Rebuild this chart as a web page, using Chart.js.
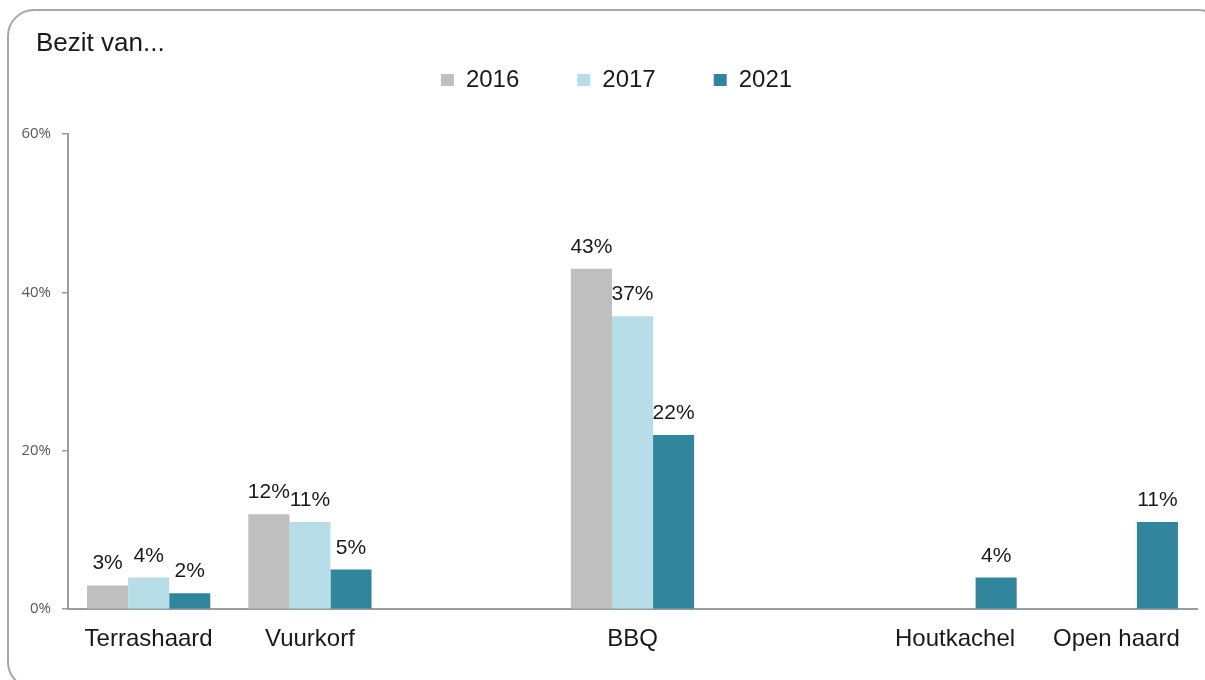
<!DOCTYPE html>
<html>
<head>
<meta charset="utf-8">
<script src="https://cdn.jsdelivr.net/npm/chart.js@4/dist/chart.umd.min.js"></script>
<style>
  html, body { margin: 0; padding: 0; background: #fff; }
  #wrap { position: relative; width: 1205px; height: 680px; overflow: hidden; }
  #frame {
    position: absolute; left: 7px; top: 9px; width: 1214px; height: 676px;
    border: 2px solid #a6a6a6; border-radius: 27px;
  }
  #chart { position: absolute; left: 0; top: 0; }
</style>
</head>
<body>
<div id="wrap">
  <div id="frame"></div>
  <canvas id="chart" width="1205" height="680"></canvas>
</div>
<script>
const categories = ["Terrashaard", "Vuurkorf", "", "BBQ", "", "Houtkachel", "Open haard"];
const years = ["2016", "2017", "2021"];
const values2016 = [3, 12, null, 43, null, null, null];
const values2017 = [4, 11, null, 37, null, null, null];
const values2021 = [2, 5, null, 22, null, 4, 11];
const yTicks = [0, 20, 40, 60];

const colors = ["#bfbfbf", "#b7dee8", "#31859c"];
const axisColor = "#9c9c9c";
const textFont = '"Liberation Sans", Arial, sans-serif';

// labels above each bar
const barLabels = {
  id: "barLabels",
  afterLayout(chart) {
    // let the y tick labels reach past the left padding
    chart.scales.y.left = 0;
  },
  afterDatasetsDraw(chart) {
    const ctx = chart.ctx;
    ctx.save();
    ctx.font = "21px " + textFont;
    ctx.fillStyle = "#1a1a1a";
    ctx.textAlign = "center";
    ctx.textBaseline = "alphabetic";
    chart.data.datasets.forEach((ds, i) => {
      chart.getDatasetMeta(i).data.forEach((bar, j) => {
        const v = ds.data[j];
        if (v === null || v === undefined) return;
        ctx.fillText(v + "%", bar.x, bar.y - 16);
      });
    });
    ctx.restore();
  },
};

new Chart(document.getElementById("chart"), {
  type: "bar",
  data: {
    labels: categories,
    datasets: [values2016, values2017, values2021].map((d, i) => ({
      label: years[i],
      data: d,
      backgroundColor: colors[i],
      borderWidth: 0,
      categoryPercentage: 0.764,
      barPercentage: 1,
    })),
  },
  options: {
    responsive: false,
    animation: false,
    devicePixelRatio: 1,
    layout: {
      padding: { left: 36, right: 8, top: 0, bottom: 10 },
    },
    plugins: {
      title: {
        display: true,
        text: "Bezit van...",
        align: "start",
        color: "#1a1a1a",
        font: { family: textFont, size: 26, weight: "normal" },
        padding: { top: 28, bottom: -49.2 },
      },
      legend: {
        display: true,
        labels: {
          boxWidth: 13,
          boxHeight: 12,
          padding: 58,
          color: "#1a1a1a",
          font: { family: textFont, size: 24 },
        },
      },
      tooltip: { enabled: false },
    },
    scales: {
      x: {
        grid: { display: true, drawOnChartArea: false, drawTicks: false },
        border: { display: true, color: axisColor, width: 2 },
        ticks: {
          padding: 16,
          color: "#1a1a1a",
          font: { family: textFont, size: 24 },
        },
      },
      // empty axis that only keeps space between legend and plot
      gap: {
        type: "category",
        position: "top",
        grid: { display: false },
        border: { display: false },
        ticks: { display: false },
        afterFit: (scale) => { scale.height = 32; },
      },
      y: {
        min: 0,
        max: 60,
        afterFit: (scale) => { scale.width = 32; },
        afterBuildTicks: (scale) => {
          scale.ticks = yTicks.map((v) => ({ value: v }));
        },
        grid: {
          drawOnChartArea: false,
          drawTicks: true,
          tickLength: 6,
          color: axisColor,
          lineWidth: 1.5,
        },
        border: { display: true, color: axisColor, width: 2 },
        ticks: {
          padding: 11,
          color: "#595959",
          font: { family: '"Open Sans", sans-serif', size: 15 },
          callback: (v) => v + "%",
        },
      },
    },
  },
  plugins: [barLabels],
});
</script>
</body>
</html>
